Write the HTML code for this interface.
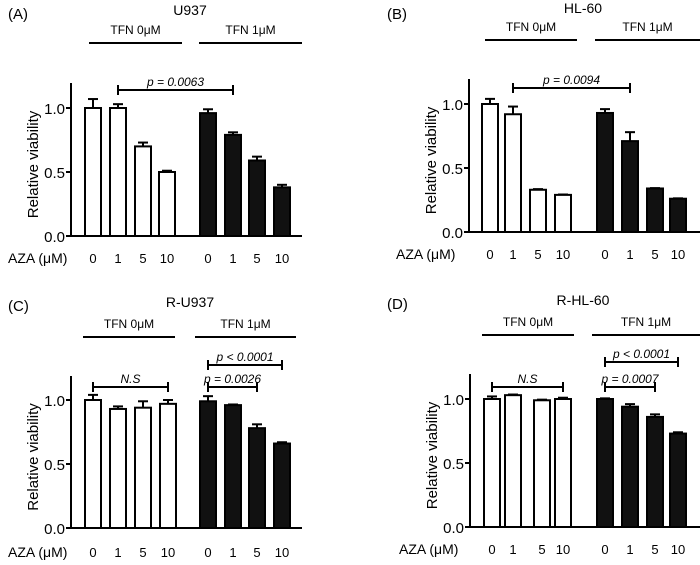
<!DOCTYPE html>
<html><head><meta charset="utf-8"><style>
html,body{margin:0;padding:0;background:#fff;}
svg{display:block;font-family:"Liberation Sans",sans-serif;}
</style></head><body>
<svg id="fig" width="700" height="565" viewBox="0 0 700 565"></svg>
<script>
const categories = ["0","1","5","10","0","1","5","10"];
const yTicks = [0, 0.5, 1.0];
const yTickLabels = ["0.0","0.5","1.0"];
const valuesA = [1.00,1.00,0.70,0.50,0.96,0.79,0.59,0.38];
const errorsA = [0.07,0.03,0.03,0.01,0.03,0.02,0.03,0.02];
const valuesB = [1.00,0.92,0.33,0.29,0.93,0.71,0.34,0.26];
const errorsB = [0.04,0.06,0.005,0.003,0.03,0.07,0.003,0.003];
const valuesC = [1.00,0.93,0.94,0.97,0.99,0.96,0.78,0.66];
const errorsC = [0.04,0.02,0.05,0.03,0.04,0.005,0.03,0.01];
const valuesD = [1.00,1.03,0.99,1.00,1.00,0.94,0.86,0.73];
const errorsD = [0.02,0.005,0.005,0.01,0.005,0.02,0.02,0.01];
const titles = ["U937","HL-60","R-U937","R-HL-60"];
const panelLetters = ["(A)","(B)","(C)","(D)"];

const NS="http://www.w3.org/2000/svg";
const svg=document.getElementById('fig');
function mk(tag,attrs,parent,text){const e=document.createElementNS(NS,tag);for(const k in attrs)e.setAttribute(k,attrs[k]);if(text!==undefined)e.textContent=text;(parent||svg).appendChild(e);return e;}

const layouts=[
 {ax:71,y0:236,top:83,xEnd:302,cx:[93,118,143,167,208,233,257,282],gy:43,g0:[89,182],g1:[199,302],title:[190,15],letter:[8,19],aza:[8,263],
  brackets:[{x1:1,x2:5,y:90,label:"p = 0.0063"}]},
 {ax:469,y0:232,top:79,xEnd:700,cx:[490,513,538,563,605,630,655,678],gy:40,g0:[485,577],g1:[595,700],title:[583,13],letter:[387,19],aza:[396,259],
  brackets:[{x1:1,x2:5,y:88,label:"p = 0.0094"}]},
 {ax:71,y0:528,top:376,xEnd:302,cx:[93,118,143,168,208,233,257,282],gy:337,g0:[83,175],g1:[195,296],title:[190,307],letter:[8,311],aza:[8,557],
  brackets:[{x1:4,x2:7,y:365,label:"p < 0.0001"},{x1:4,x2:6,y:387,label:"p = 0.0026"},{x1:0,x2:3,y:387,label:"N.S"}]},
 {ax:470,y0:527,top:374,xEnd:700,cx:[492,513,542,563,605,630,655,678],gy:335,g0:[482,574],g1:[592,700],title:[583,305],letter:[387,309],aza:[399,554],
  brackets:[{x1:4,x2:7,y:362,label:"p < 0.0001"},{x1:4,x2:6,y:387,label:"p = 0.0007"},{x1:0,x2:3,y:387,label:"N.S"}]}
];
const allVals=[valuesA,valuesB,valuesC,valuesD];
const allErrs=[errorsA,errorsB,errorsC,errorsD];
const PX=128;

layouts.forEach((L,p)=>{
 const g=mk('g',{});
 
 
 const yS=v=>L.y0-v*PX;
 const t=mk('text',{x:L.title[0],y:L.title[1],'font-size':14,'text-anchor':'middle'},g,titles[p]);
 
 const lt=mk('text',{x:L.letter[0],y:L.letter[1],'font-size':15},g,panelLetters[p]);
 
 [[L.g0,"TFN 0\u03BCM"],[L.g1,"TFN 1\u03BCM"]].forEach(([r,lab],i)=>{
  const ln=mk('line',{x1:r[0],x2:r[1],y1:L.gy,y2:L.gy,stroke:'#000','stroke-width':2},g);
  
  const tx=mk('text',{x:(r[0]+r[1])/2,y:L.gy-9,'font-size':12,'text-anchor':'middle'},g,lab);
  
 });
 const ya=mk('line',{x1:L.ax,x2:L.ax,y1:L.top,y2:L.y0+1,stroke:'#000','stroke-width':2},g);
 
 const xa=mk('line',{x1:L.ax-5,x2:L.xEnd,y1:L.y0,y2:L.y0,stroke:'#000','stroke-width':2},g);
 
 yTicks.forEach((v,i)=>{
  mk('line',{x1:L.ax-5,x2:L.ax,y1:yS(v),y2:yS(v),stroke:'#000','stroke-width':2},g);
  const tl=mk('text',{x:L.ax-6,y:yS(v)+6,'font-size':15,'text-anchor':'end'},g,yTickLabels[i]);
  
 });
 const yl=mk('text',{x:0,y:0,'font-size':15,'text-anchor':'middle',transform:`translate(${L.ax-33},${(L.y0+L.top)/2+5}) rotate(-90)`},g,"Relative viability");
 
 const az=mk('text',{x:L.aza[0],y:L.aza[1],'font-size':14},g,"AZA (\u03BCM)");
 
 const vals=allVals[p],errs=allErrs[p];
 vals.forEach((v,i)=>{
  const cx=L.cx[i],w=16,yt=yS(v);
  const b=mk('rect',{x:cx-w/2,y:yt,width:w,height:L.y0-yt,fill:i<4?'#fff':'#111',stroke:'#000','stroke-width':2},g);
  
  
  const ye=yS(v+errs[i]);
  mk('line',{x1:cx,x2:cx,y1:yt,y2:ye,stroke:'#000','stroke-width':2},g);
  mk('line',{x1:cx-5,x2:cx+5,y1:ye,y2:ye,stroke:'#000','stroke-width':2},g);
  const cl=mk('text',{x:cx,y:L.aza[1],'font-size':13,'text-anchor':'middle'},g,categories[i]);
  
 });
 L.brackets.forEach(br=>{
  const x1=L.cx[br.x1],x2=L.cx[br.x2];
  const bg=mk('g',{},g);
  
  mk('line',{x1:x1,x2:x2,y1:br.y,y2:br.y,stroke:'#000','stroke-width':2},bg);
  mk('line',{x1:x1,x2:x1,y1:br.y-5,y2:br.y+5,stroke:'#000','stroke-width':2},bg);
  mk('line',{x1:x2,x2:x2,y1:br.y-5,y2:br.y+5,stroke:'#000','stroke-width':2},bg);
  mk('text',{x:(x1+x2)/2,y:br.y-4,'font-size':12,'font-style':'italic','text-anchor':'middle'},bg,br.label);
 });
});
</script>
</body></html>
